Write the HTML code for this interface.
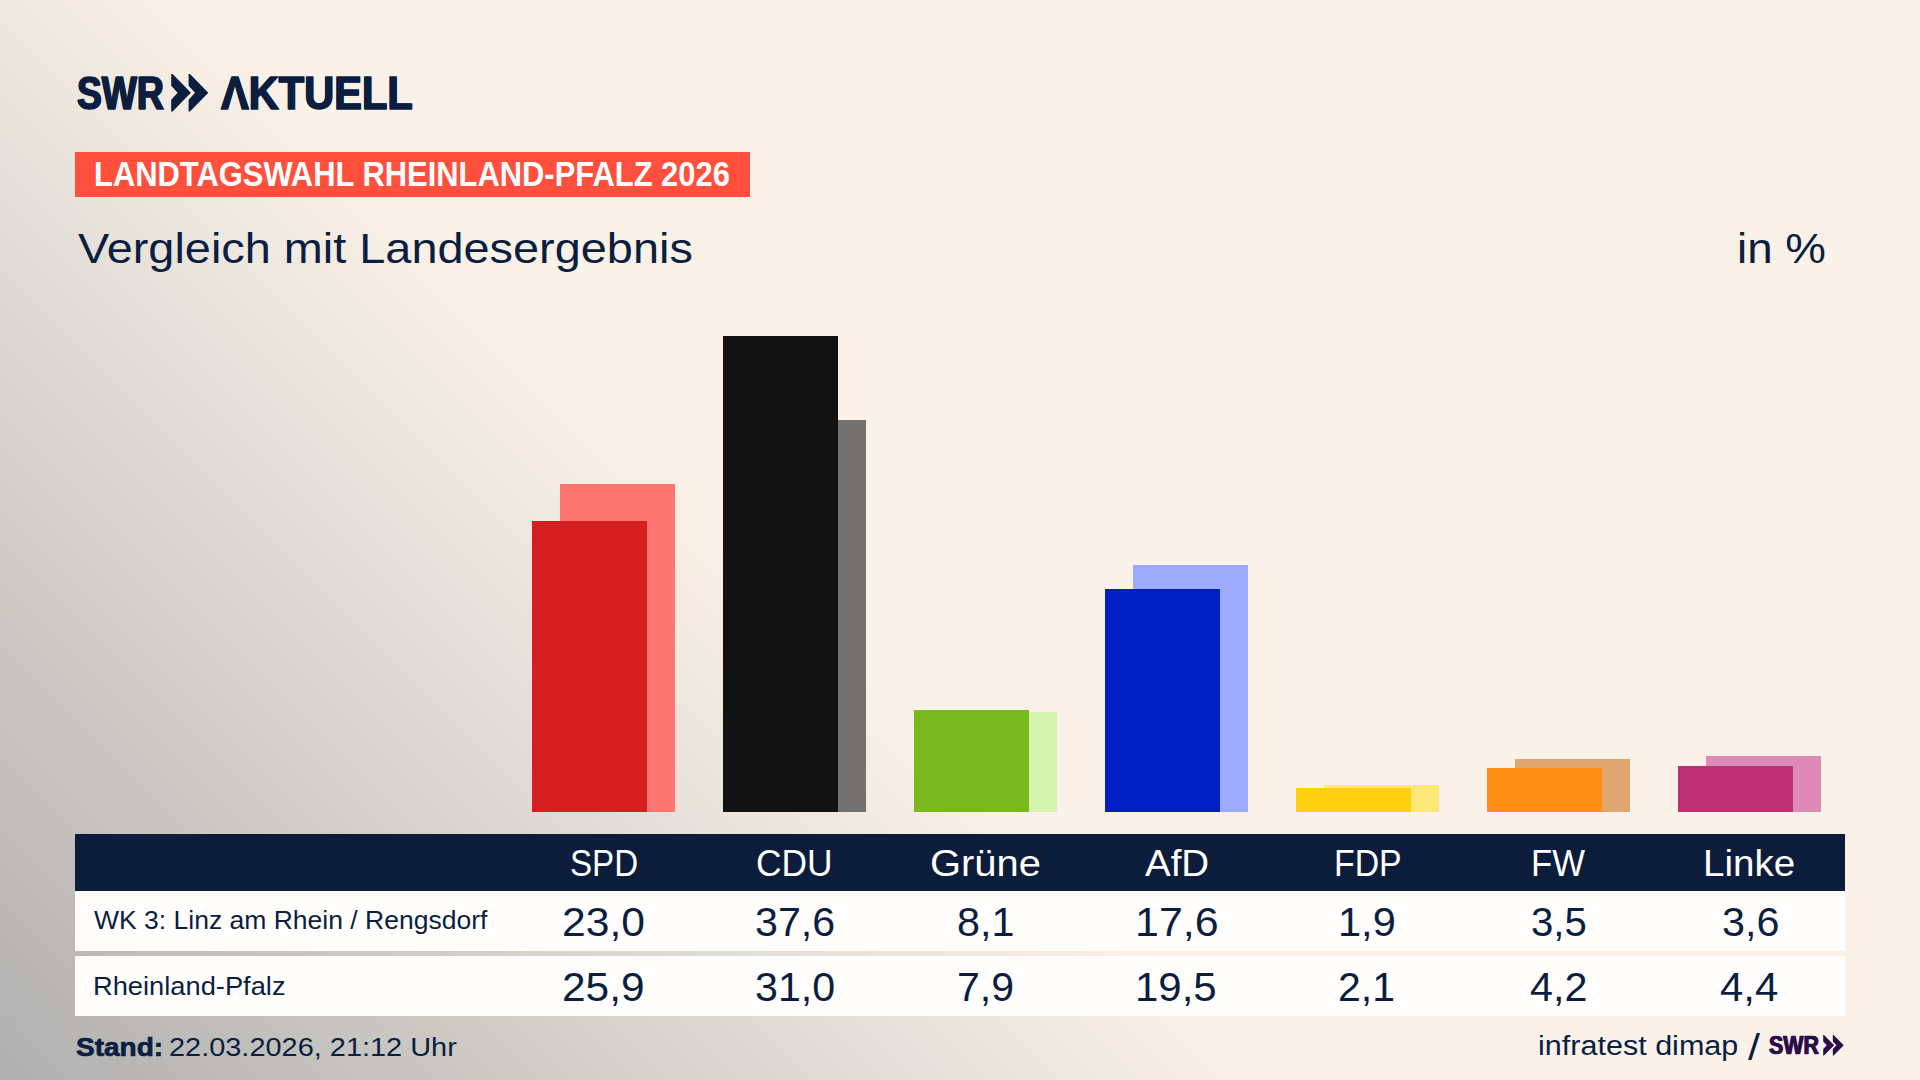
<!DOCTYPE html>
<html lang="de">
<head>
<meta charset="utf-8">
<title>SWR Aktuell – Landtagswahl Rheinland-Pfalz 2026 – Vergleich mit Landesergebnis</title>
<style>
html,body{margin:0;padding:0;width:1920px;height:1080px;overflow:hidden}
body{position:relative;font-family:"Liberation Sans",sans-serif;color:#0b1e3f;background:linear-gradient(45deg,#b0b0b0 0%,#bebcba 8%,#cfccc7 18%,#ddd8d2 26%,#e8e2db 32%,#f3ebe2 38%,#faf2e8 43%,#faf2e8 100%)}
.t{position:absolute;white-space:nowrap;line-height:1;transform-origin:0 0;display:block;margin:0;font-weight:normal}
.b{position:absolute}
.hdr{position:absolute;left:75px;top:834px;width:1770px;height:57px;background:#0c1d3c}
.row{position:absolute;left:75px;width:1770px;height:60px;background:#fffefd}
.tag{position:absolute;left:75px;top:152px;width:675px;height:45px;background:#ff4f3d}
svg{position:absolute;overflow:visible}
</style>
</head>
<body>
<header>
<div class="logo" aria-label="SWR Aktuell">
<span class="t" id="swr" style="left:77.00px;top:70.01px;font-size:46.6px;transform:scaleX(0.7982);font-weight:bold;-webkit-text-stroke:1.3px currentColor;text-shadow:1.0px 0 0 currentColor,-1.0px 0 0 currentColor">SWR</span>
<svg width="1920" height="1080" style="left:0;top:0" viewBox="0 0 1920 1080" aria-hidden="true"><polygon fill="#0b1e3f" points="171.20,73.90 172.60,73.90 190.90,92.75 172.60,111.60 171.20,111.60 171.20,99.70 177.60,92.75 171.20,85.80"/><polygon fill="#0b1e3f" points="188.60,73.90 190.00,73.90 208.30,92.75 190.00,111.60 188.60,111.60 188.60,99.70 195.00,92.75 188.60,85.80"/></svg>
<span class="t" id="akt" style="left:221.26px;top:69.91px;font-size:46.6px;transform:scaleX(0.8922);font-weight:bold;-webkit-text-stroke:1.3px currentColor;text-shadow:0.7px 0 0 currentColor,-0.7px 0 0 currentColor">ΛKTUELL</span>
</div>
<div class="tag"></div>
<p class="t" id="tag" style="left:93.62px;top:157.00px;font-size:34.4px;transform:scaleX(0.8986);font-weight:bold;color:#fff">LANDTAGSWAHL RHEINLAND-PFALZ 2026</p>
<h1 class="t" id="title" style="left:78.19px;top:227.10px;font-size:43.3px;transform:scaleX(1.0824)">Vergleich mit Landesergebnis</h1>
<p class="t" id="inp" style="left:1736.88px;top:227.40px;font-size:43.3px;transform:scaleX(1.0559)">in %</p>
</header>
<main>
<section id="chart" aria-label="Balkendiagramm">
<div class="b" style="left:560px;top:484.1px;width:115px;height:327.9px;background:#ff7570"></div><div class="b" style="left:532px;top:520.8px;width:115px;height:291.2px;background:#d51e1e"></div>
<div class="b" style="left:751px;top:419.5px;width:115px;height:392.5px;background:#737170"></div><div class="b" style="left:723px;top:336.0px;width:115px;height:476.0px;background:#121212"></div>
<div class="b" style="left:942px;top:712.0px;width:115px;height:100.0px;background:#d6f5ae"></div><div class="b" style="left:914px;top:709.5px;width:115px;height:102.5px;background:#78ba1b"></div>
<div class="b" style="left:1133px;top:565.1px;width:115px;height:246.9px;background:#9daaff"></div><div class="b" style="left:1105px;top:589.2px;width:115px;height:222.8px;background:#001fc4"></div>
<div class="b" style="left:1324px;top:785.4px;width:115px;height:26.6px;background:#ffe678"></div><div class="b" style="left:1296px;top:787.9px;width:115px;height:24.1px;background:#ffce10"></div>
<div class="b" style="left:1515px;top:758.8px;width:115px;height:53.2px;background:#dfa671"></div><div class="b" style="left:1487px;top:767.7px;width:115px;height:44.3px;background:#ff8e16"></div>
<div class="b" style="left:1706px;top:756.3px;width:115px;height:55.7px;background:#de8ab7"></div><div class="b" style="left:1678px;top:766.4px;width:115px;height:45.6px;background:#bd3074"></div>
</section>
<section id="table" role="table">
<div class="hdr" role="row">
<div class="t" id="h0" role="columnheader" style="left:495.33px;top:10.61px;font-size:37.2px;transform:scaleX(0.8909);color:#fff">SPD</div><div class="t" id="h1" role="columnheader" style="left:680.66px;top:10.61px;font-size:37.2px;transform:scaleX(0.9510);color:#fff">CDU</div><div class="t" id="h2" role="columnheader" style="left:855.12px;top:10.61px;font-size:37.2px;transform:scaleX(1.0723);color:#fff">Grüne</div><div class="t" id="h3" role="columnheader" style="left:1069.62px;top:10.61px;font-size:37.2px;transform:scaleX(1.0349);color:#fff">AfD</div><div class="t" id="h4" role="columnheader" style="left:1259.22px;top:10.61px;font-size:37.2px;transform:scaleX(0.9102);color:#fff">FDP</div><div class="t" id="h5" role="columnheader" style="left:1455.75px;top:10.61px;font-size:37.2px;transform:scaleX(0.9328);color:#fff">FW</div><div class="t" id="h6" role="columnheader" style="left:1627.70px;top:10.61px;font-size:37.2px;transform:scaleX(1.0367);color:#fff">Linke</div>
</div>
<div class="row" role="row" style="top:891px">
<div class="t" id="l1" role="rowheader" style="left:19.44px;top:17.41px;font-size:25.2px;transform:scaleX(1.0523)">WK 3: Linz am Rhein / Rengsdorf</div>
<div class="t" id="a0" role="cell" style="left:487.25px;top:10.60px;font-size:41px;transform:scaleX(1.0399)">23,0</div><div class="t" id="a1" role="cell" style="left:679.99px;top:10.60px;font-size:41px;transform:scaleX(1.0053)">37,6</div><div class="t" id="a2" role="cell" style="left:881.78px;top:10.60px;font-size:41px;transform:scaleX(1.0058)">8,1</div><div class="t" id="a3" role="cell" style="left:1059.69px;top:10.60px;font-size:41px;transform:scaleX(1.0477)">17,6</div><div class="t" id="a4" role="cell" style="left:1262.99px;top:10.60px;font-size:41px;transform:scaleX(1.0139)">1,9</div><div class="t" id="a5" role="cell" style="left:1456.21px;top:10.60px;font-size:41px;transform:scaleX(0.9789)">3,5</div><div class="t" id="a6" role="cell" style="left:1646.98px;top:10.60px;font-size:41px;transform:scaleX(1.0068)">3,6</div>
</div>
<div class="row" role="row" style="top:956px">
<div class="t" id="l2" role="rowheader" style="left:18.37px;top:18.01px;font-size:25.2px;transform:scaleX(1.0830)">Rheinland-Pfalz</div>
<div class="t" id="b0" role="cell" style="left:487.21px;top:10.81px;font-size:41px;transform:scaleX(1.0354)">25,9</div><div class="t" id="b1" role="cell" style="left:679.99px;top:10.81px;font-size:41px;transform:scaleX(1.0053)">31,0</div><div class="t" id="b2" role="cell" style="left:882.00px;top:10.81px;font-size:41px;transform:scaleX(1.0000)">7,9</div><div class="t" id="b3" role="cell" style="left:1059.74px;top:10.81px;font-size:41px;transform:scaleX(1.0240)">19,5</div><div class="t" id="b4" role="cell" style="left:1263.00px;top:10.81px;font-size:41px;transform:scaleX(1.0000)">2,1</div><div class="t" id="b5" role="cell" style="left:1454.78px;top:10.81px;font-size:41px;transform:scaleX(1.0079)">4,2</div><div class="t" id="b6" role="cell" style="left:1645.38px;top:10.81px;font-size:41px;transform:scaleX(1.0220)">4,4</div>
</div>
</section>
</main>
<footer>
<strong class="t" id="st" style="left:76.17px;top:1033.81px;font-size:26.6px;transform:scaleX(1.0541);font-weight:bold;-webkit-text-stroke:0.7px currentColor">Stand:</strong><span class="t" id="dt" style="left:169.46px;top:1034.11px;font-size:26.2px;transform:scaleX(1.1043)">22.03.2026, 21:12 Uhr</span>
<span class="t" id="inf" style="left:1538.26px;top:1033.10px;font-size:27px;transform:scaleX(1.1312)">infratest dimap</span><span class="t" id="sl" style="left:1747.64px;top:1029.20px;font-size:37px;transform:scaleX(1.1660)">/</span><span class="t" id="swr2" style="left:1769.35px;top:1033.31px;font-size:25.2px;transform:scaleX(0.8475);font-weight:bold;color:#2a0f4b;-webkit-text-stroke:0.6px currentColor;text-shadow:0.6px 0 0 currentColor,-0.6px 0 0 currentColor">SWR</span>
<svg width="1920" height="1080" style="left:0;top:0" viewBox="0 0 1920 1080" aria-hidden="true"><polygon fill="#2a0f4b" points="1823.20,1035.00 1823.98,1035.00 1834.11,1045.20 1823.98,1055.40 1823.20,1055.40 1823.20,1048.96 1826.75,1045.20 1823.20,1041.44"/><polygon fill="#2a0f4b" points="1832.84,1035.00 1833.62,1035.00 1843.75,1045.20 1833.62,1055.40 1832.84,1055.40 1832.84,1048.96 1836.39,1045.20 1832.84,1041.44"/></svg>
</footer>
</body>
</html>
